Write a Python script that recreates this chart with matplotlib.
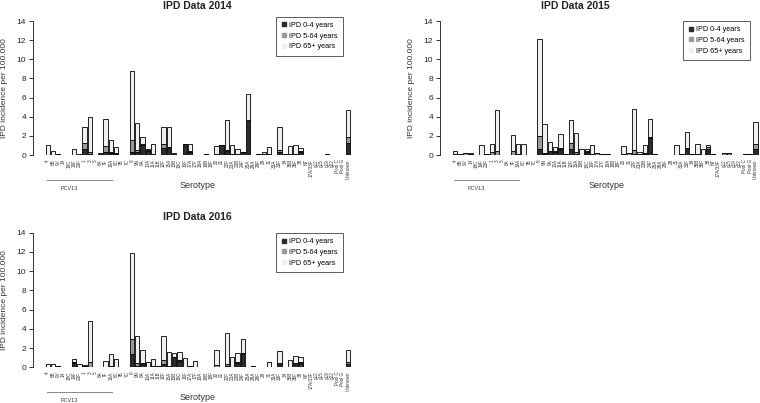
import numpy as np
import matplotlib
matplotlib.use("Agg")
import matplotlib.pyplot as plt
from matplotlib.lines import Line2D

plt.rcParams['font.family'] = ['Liberation Sans', 'DejaVu Sans']

serotypes = ["4", "6B", "9V", "14", "18C", "19F", "23F", "1", "3", "5", "6A", "7F", "19A",
             "6C", "7B", "7C", "8", "9N", "9A", "10A", "11A", "11B", "12F", "15A", "15B",
             "15C", "16F", "17A", "17F", "18A", "18B", "18F", "20", "21", "22F", "23A", "23B",
             "24F", "25A", "28A", "28F", "29", "31", "33A", "33F", "34", "35B", "35F", "38",
             "NT", "17A/33F", "g12", "g15", "g19", "g22", "Pool C", "Pool G", "Unknown"]
n_pcv13 = 13

# cumulative tops: 0-4, 0-64, all ages
top04_2014 = [0, 0, 0, 0, 0, 0, 0, 0.65, 0.1, 0, 0, 0.35, 0.2, 0.15, 0, 0, 0.35, 0.35, 1.0, 0.4,
              0.05, 0, 0.7, 0.75, 0, 0, 1.1, 0.35, 0, 0, 0.15, 0, 0.05, 1.0, 0.4, 0.1, 0.05,
              0.3, 3.7, 0, 0, 0, 0, 0, 0.35, 0, 0.05, 0, 0.35, 0, 0, 0, 0, 0, 0, 0, 0, 1.3]
top564_2014 = [0.05, 0.05, 0.1, 0.05, 0, 0.05, 0.05, 1.25, 0.35, 0, 0.1, 0.95, 0.35, 0.2, 0, 0,
               1.6, 0.55, 1.2, 0.55, 0.15, 0.05, 1.15, 0.8, 0.1, 0.05, 1.15, 0.4, 0.05, 0, 0.15,
               0, 0.1, 1.05, 0.55, 0.15, 0.1, 0.3, 3.7, 0.05, 0.1, 0.1, 0.1, 0, 0.55, 0.1, 0.1,
               0.1, 0.4, 0, 0, 0, 0, 0.1, 0, 0, 0, 1.85]
total_2014 = [1.0, 0.4, 0.15, 0.05, 0, 0.65, 0.1, 2.9, 4.0, 0, 0.2, 3.8, 1.6, 0.85, 0, 0,
              8.8, 3.35, 1.85, 0.6, 1.15, 0.05, 2.95, 2.9, 0.25, 0.05, 1.2, 1.1, 0.05, 0, 0.15,
              0, 0.95, 1.05, 3.7, 1.0, 0.6, 0.3, 6.35, 0.05, 0.1, 0.3, 0.8, 0, 2.9, 0.1, 0.95,
              1.05, 0.75, 0, 0, 0, 0, 0.1, 0, 0, 0, 4.65]

top04_2015 = [0.05, 0, 0, 0, 0, 0, 0, 0.05, 0.05, 0, 0, 0.05, 0.05, 0, 0, 0, 0.65, 0.1, 0.4,
              0.35, 0.65, 0, 0.65, 0.1, 0, 0.35, 0.05, 0, 0, 0, 0, 0, 0.05, 0, 0.1, 0.1, 0.1,
              1.75, 0.1, 0, 0, 0, 0, 0, 0.7, 0.1, 0, 0, 0.6, 0, 0, 0, 0, 0, 0, 0, 0, 0.65]
top564_2015 = [0.1, 0.15, 0.2, 0.1, 0, 0.05, 0.1, 0.35, 0.4, 0, 0, 0.4, 0.15, 0.05, 0, 0, 2.0,
               0.25, 0.45, 0.4, 0.7, 0.1, 1.25, 0.3, 0.05, 0.4, 0.1, 0.2, 0.1, 0.1, 0.05, 0,
               0.1, 0.2, 0.55, 0.1, 0.25, 1.9, 0.15, 0, 0, 0, 0, 0.1, 0.75, 0.15, 0.1, 0.05,
               0.8, 0.15, 0.05, 0.2, 0.2, 0, 0, 0.1, 0.1, 1.1]
total_2015 = [0.4, 0.15, 0.2, 0.2, 0, 1.05, 0.1, 1.1, 4.75, 0, 0, 2.1, 1.1, 1.15, 0, 0, 12.1,
              3.2, 1.35, 0.8, 2.2, 0.1, 3.65, 2.25, 0.6, 0.65, 1.05, 0.2, 0.1, 0.1, 0.05, 0,
              0.9, 0.2, 4.8, 0.3, 1.05, 3.8, 0.15, 0, 0, 0, 1.0, 0.1, 2.4, 0.15, 1.15, 0.6,
              1.0, 0.15, 0.05, 0.2, 0.2, 0, 0, 0.1, 0.1, 3.45]

top04_2016 = [0, 0, 0, 0, 0, 0.45, 0, 0.1, 0.05, 0, 0, 0, 0.05, 0, 0, 0, 1.4, 0.1, 0.35, 0,
              0, 0, 0.35, 0.05, 1.05, 0.7, 0, 0, 0, 0, 0, 0, 0.05, 0, 0.1, 0, 0.4, 1.4, 0, 0,
              0, 0, 0, 0, 0.4, 0, 0, 0.4, 0.45, 0, 0, 0, 0, 0, 0, 0, 0, 0.35]
top564_2016 = [0.05, 0.05, 0.1, 0.05, 0, 0.5, 0.05, 0.15, 0.55, 0, 0, 0.05, 0.1, 0.05, 0, 0.05,
               2.95, 0.45, 0.4, 0.05, 0.1, 0.1, 0.8, 0.1, 1.1, 0.75, 0.05, 0.1, 0.05, 0, 0, 0,
               0.2, 0, 0.35, 0.05, 0.55, 1.5, 0, 0.1, 0, 0, 0.05, 0, 0.45, 0, 0.05, 0.45,
               0.5, 0, 0, 0, 0, 0, 0, 0, 0, 0.55]
total_2016 = [0.3, 0.3, 0.15, 0.05, 0, 0.9, 0.3, 0.2, 4.8, 0, 0, 0.65, 1.35, 0.85, 0, 0.05,
              11.85, 3.3, 1.8, 0.5, 0.9, 0.1, 3.25, 1.6, 1.5, 1.55, 0.95, 0.1, 0.7, 0, 0, 0,
              1.75, 0, 3.6, 1.05, 1.5, 2.9, 0, 0.1, 0, 0, 0.5, 0, 1.65, 0, 0.8, 1.15, 1.05,
              0, 0, 0, 0, 0, 0, 0, 0, 1.85]

years = ["2014", "2015", "2016"]
series = [(top04_2014, top564_2014, total_2014),
          (top04_2015, top564_2015, total_2015),
          (top04_2016, top564_2016, total_2016)]

col04 = "#2b2b2b"
col564 = "#9a9a9a"
col65 = "#f0f0f0"

W, H = 760, 403
fig = plt.figure(figsize=(W / 100, H / 100), dpi=100)

# pixel layout per panel: y-axis x, first bar x, right edge, y of 14, y of 0
panels = [(33, 47.7, 356, 21, 155),
          (440, 455, 760, 21, 155),
          (33, 47.7, 356, 232.7, 367.3)]
# title (x, y), serotype label (x, y), legend top-right corner (x, y)
titles = [(197, 6), (575, 6), (197, 217)]
xlabels = [(198, 186), (607, 185), (198, 397)]
legends = [(343, 16.5), (750, 20.7), (343, 232.7)]
step = 5.27

def fx(px):
    return px / W

def fy(py):
    return 1 - py / H

for k in range(3):
    xa, x0, xr, yt, yb = panels[k]
    ax = fig.add_axes([fx(xa), fy(yb), (xr - xa) / W, (yb - yt) / H])
    a, b, c = [np.array(v) for v in series[k]]
    idx = np.arange(len(serotypes))
    w = 0.83
    ax.bar(idx, a, w, color=col04, edgecolor="black", linewidth=0.6)
    ax.bar(idx, b - a, w, bottom=a, color=col564, edgecolor="black", linewidth=0.6)
    ax.bar(idx, c - b, w, bottom=b, color=col65, edgecolor="black", linewidth=0.6)
    ax.set_xlim((xa - x0) / step, (xr - x0) / step)
    ax.set_ylim(0, 14)
    for s in ["top", "right", "bottom"]:
        ax.spines[s].set_visible(False)
    ax.spines["left"].set_linewidth(0.7)
    ax.spines["left"].set_color("#333333")
    ax.set_yticks(range(0, 15, 2))
    ax.tick_params(axis="y", labelsize=6, length=3, width=0.7, color="#333333",
                   labelcolor="#222222", pad=2)
    ax.set_xticks(idx)
    ax.set_xticklabels(serotypes, rotation=90, fontsize=3.3, color="#333333")
    ax.tick_params(axis="x", length=0, pad=3)
    ax.set_ylabel("IPD incidence per 100.000", fontsize=6, color="#333333", labelpad=6)

    fig.text(fx(titles[k][0]), fy(titles[k][1]), "IPD Data " + years[k], fontsize=7.5,
             fontweight="bold", color="#222222", ha="center", va="center")
    fig.text(fx(xlabels[k][0]), fy(xlabels[k][1]), "Serotype", fontsize=6.5,
             color="#333333", ha="center", va="center")

    # PCV13 bracket under the axis
    ly = -(25.0 / (yb - yt)) * 14
    ax.plot([-0.2, n_pcv13 - 0.8], [ly, ly], color="#888888", linewidth=0.7, clip_on=False)
    ax.text((n_pcv13 - 1) / 2 - 2, ly - 0.6, "PCV13", fontsize=4, color="#333333",
            ha="center", va="top", clip_on=False)

    handles = [Line2D([], [], marker="s", linestyle="", markersize=3, color=cc)
               for cc in [col04, col564, col65]]
    leg = ax.legend(handles, ["IPD 0-4 years", "IPD 5-64 years", "IPD 65+ years"],
                    loc="upper right", fontsize=5.2, frameon=True, fancybox=False,
                    handletextpad=0.2, borderpad=0.75, labelspacing=0.5, handlelength=0.9,
                    borderaxespad=0,
                    bbox_to_anchor=(fx(legends[k][0]), fy(legends[k][1])),
                    bbox_transform=fig.transFigure)
    leg.get_frame().set_edgecolor("#333333")
    leg.get_frame().set_linewidth(0.7)

fig.savefig("out.png", dpi=100)
